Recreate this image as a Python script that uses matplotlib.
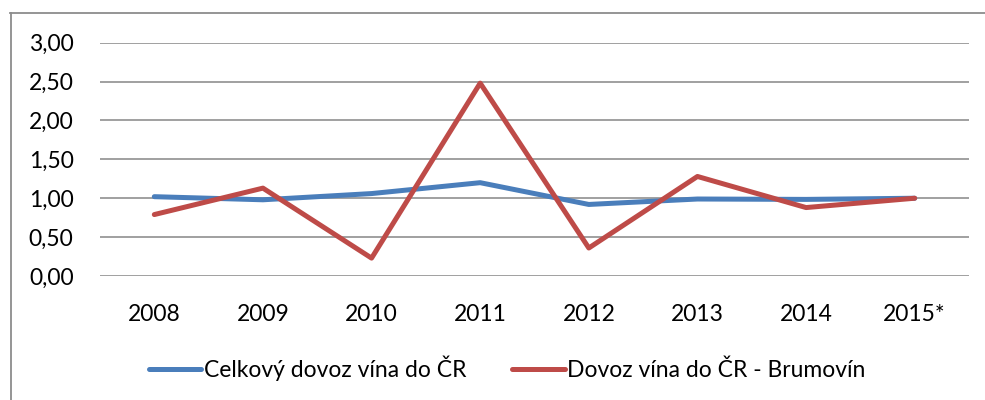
import matplotlib
matplotlib.use('Agg')
import matplotlib.pyplot as plt
from matplotlib.lines import Line2D

# data
years = ['2008', '2009', '2010', '2011', '2012', '2013', '2014', '2015*']
celkovy = [1.02, 0.98, 1.06, 1.20, 0.92, 0.99, 0.985, 1.00]
brumovin = [0.79, 1.13, 0.23, 2.48, 0.36, 1.28, 0.88, 1.00]
labels = ['Celkový dovoz vína do ČR', 'Dovoz vína do ČR - Brumovín']
yticks = [0.0, 0.5, 1.0, 1.5, 2.0, 2.5, 3.0]

plt.rcParams['font.family'] = ['Lato', 'DejaVu Sans']
plt.rcParams['font.size'] = 16.5

W, H = 985, 400
fig = plt.figure(figsize=(W / 100, H / 100), dpi=100)
ax = fig.add_axes([100 / W, (H - 276) / H, 869 / W, (276 - 42.7) / H])

x = range(len(years))
ax.plot(x, celkovy, color='#4a7ebb', lw=3.6, solid_capstyle='round', label=labels[0])
ax.plot(x, brumovin, color='#be4b48', lw=3.6, solid_capstyle='round', label=labels[1])

ax.set_xlim(-0.5, len(years) - 0.5)
ax.set_ylim(0, 3)
ax.set_yticks(yticks)
ax.yaxis.set_major_formatter(matplotlib.ticker.FuncFormatter(lambda v, p: ('%.2f' % v).replace('.', ',')))
ax.set_xticks(list(x))
ax.set_xticklabels(years)
ax.tick_params(axis='y', length=0, pad=19)
ax.tick_params(axis='x', length=0, pad=20)
ax.grid(axis='y', color='#868686', lw=1.1)
ax.set_axisbelow(True)
for s in ax.spines.values():
    s.set_visible(False)

fig.legend(loc='center', bbox_to_anchor=(507 / W, 1 - 368 / H), ncol=2, frameon=False,
           handlelength=2.3, handletextpad=0.1, columnspacing=2.0, fontsize=16.5)

# chart border (left and top visible)
bc = '#8c8c8c'
fig.add_artist(Line2D([10.5 / W, 10.5 / W], [0, 1 - 13 / H], color=bc, lw=1.3, transform=fig.transFigure))
fig.add_artist(Line2D([10 / W, 1], [1 - 13 / H, 1 - 13 / H], color=bc, lw=1.3, transform=fig.transFigure))

fig.savefig('out.png', dpi=100)
